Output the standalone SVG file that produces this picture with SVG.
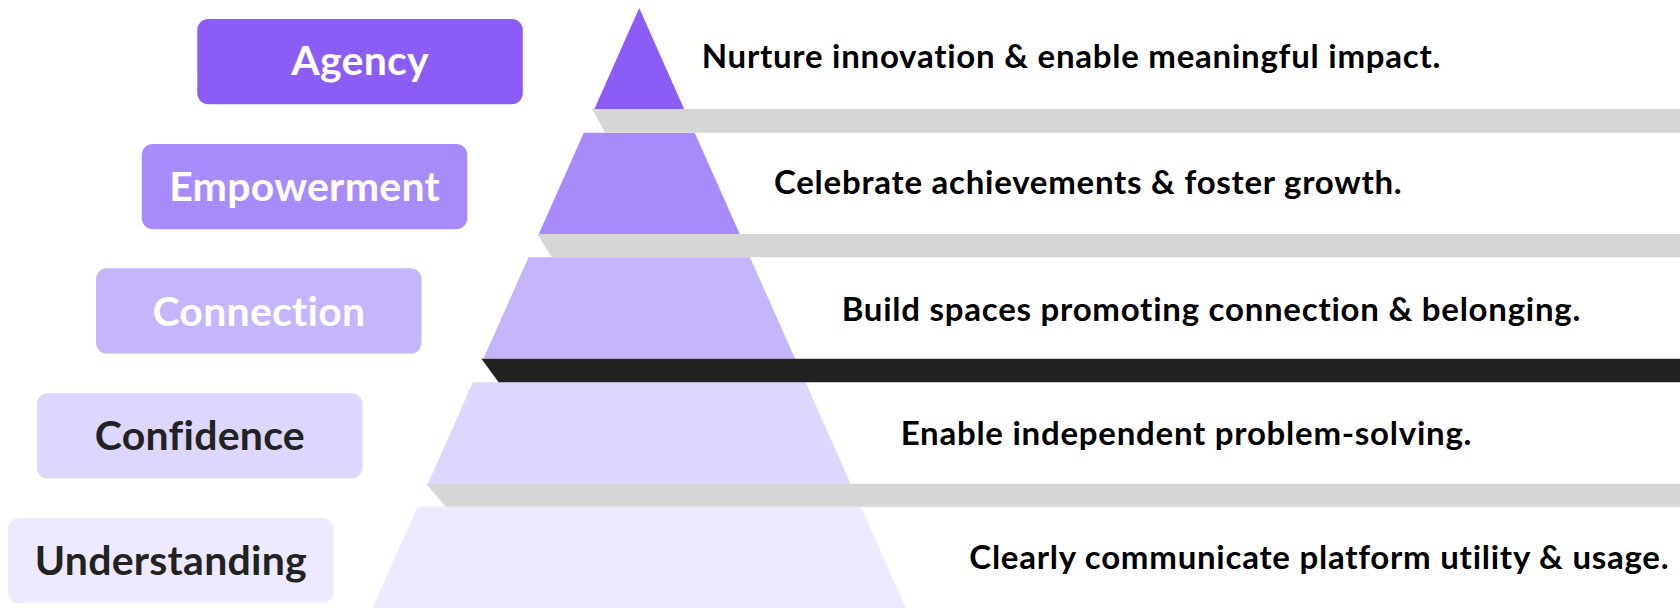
<svg xmlns="http://www.w3.org/2000/svg" width="1680" height="608" viewBox="0 0 1680 608">
<style>
.lbl{font-family:Lato,"Noto Sans",sans-serif;font-weight:700;font-size:41px;letter-spacing:0.25px;text-anchor:middle;font-variant-ligatures:none}
.desc{font-family:Lato,"Noto Sans",sans-serif;font-weight:700;font-size:33px;letter-spacing:0.75px;fill:#000;font-variant-ligatures:none}
.liga{font-variant-ligatures:common-ligatures}
.light{fill:#ffffff}
.dark{fill:#222222}
.band{fill:#d6d6d6}
</style>
<rect width="1680" height="608" fill="#ffffff"/>
<g id="pyramid">
<polygon id="level-agency" points="639.25,8 684.1,109 594.4,109" fill="#8b5cf6"/>
<polygon id="level-empowerment" points="583.8,132.7 694.7,132.7 739.7,234 538.8,234" fill="#a78bfa"/>
<polygon id="level-connection" points="528.5,257.3 750,257.3 795.1,358.7 483.4,358.7" fill="#c4b5fd"/>
<polygon id="level-confidence" points="472.9,382.3 805.6,382.3 850.6,483.7 427.9,483.7" fill="#ddd6fe"/>
<polygon id="level-understanding" points="417.6,506.7 860.9,506.7 905.9,608 372.6,608" fill="#ede9fe"/>
</g>
<g id="bands">
<polygon class="band" points="592.3,109 1680,109 1680,132.7 605,132.7"/>
<polygon class="band" points="537.3,234 1680,234 1680,257.3 551.7,257.3"/>
<polygon points="481.4,358.7 1680,358.7 1680,382.3 498.6,382.3" fill="#222222"/>
<polygon class="band" points="426,483.7 1680,483.7 1680,506.7 445.7,506.7"/>
</g>
<g id="node-agency">
<rect x="197.3" y="19" width="325.5" height="85.3" rx="11" fill="#8b5cf6"/>
<text class="lbl light" x="360.1" y="75">Agency</text>
</g>
<g id="node-empowerment">
<rect x="141.8" y="144" width="325.5" height="85.3" rx="11" fill="#a78bfa"/>
<text class="lbl light" x="304.6" y="201">Empowerment</text>
</g>
<g id="node-connection">
<rect x="96" y="268.3" width="325.5" height="85.3" rx="11" fill="#c4b5fd"/>
<text class="lbl light" x="258.9" y="325.5">Connection</text>
</g>
<g id="node-confidence">
<rect x="37" y="393.3" width="325.5" height="85.3" rx="11" fill="#ddd6fe"/>
<text class="lbl dark liga" x="199.9" y="450">Confidence</text>
</g>
<g id="node-understanding">
<rect x="8" y="518" width="325.5" height="85.3" rx="11" fill="#ede9fe"/>
<text class="lbl dark" x="170.9" y="575">Understanding</text>
</g>
<g id="descriptions">
<text class="desc" x="701.7" y="67.7">Nurture innovation &amp; enable meaningful impact.</text>
<text class="desc" x="774" y="194">Celebrate achievements &amp; foster growth.</text>
<text class="desc" x="841.7" y="321">Build spaces promoting connection &amp; belonging.</text>
<text class="desc" x="900.7" y="445">Enable independent problem-solving.</text>
<text class="desc" x="969.3" y="569.3">Clearly communicate platform utility &amp; usage.</text>
</g>
</svg>
